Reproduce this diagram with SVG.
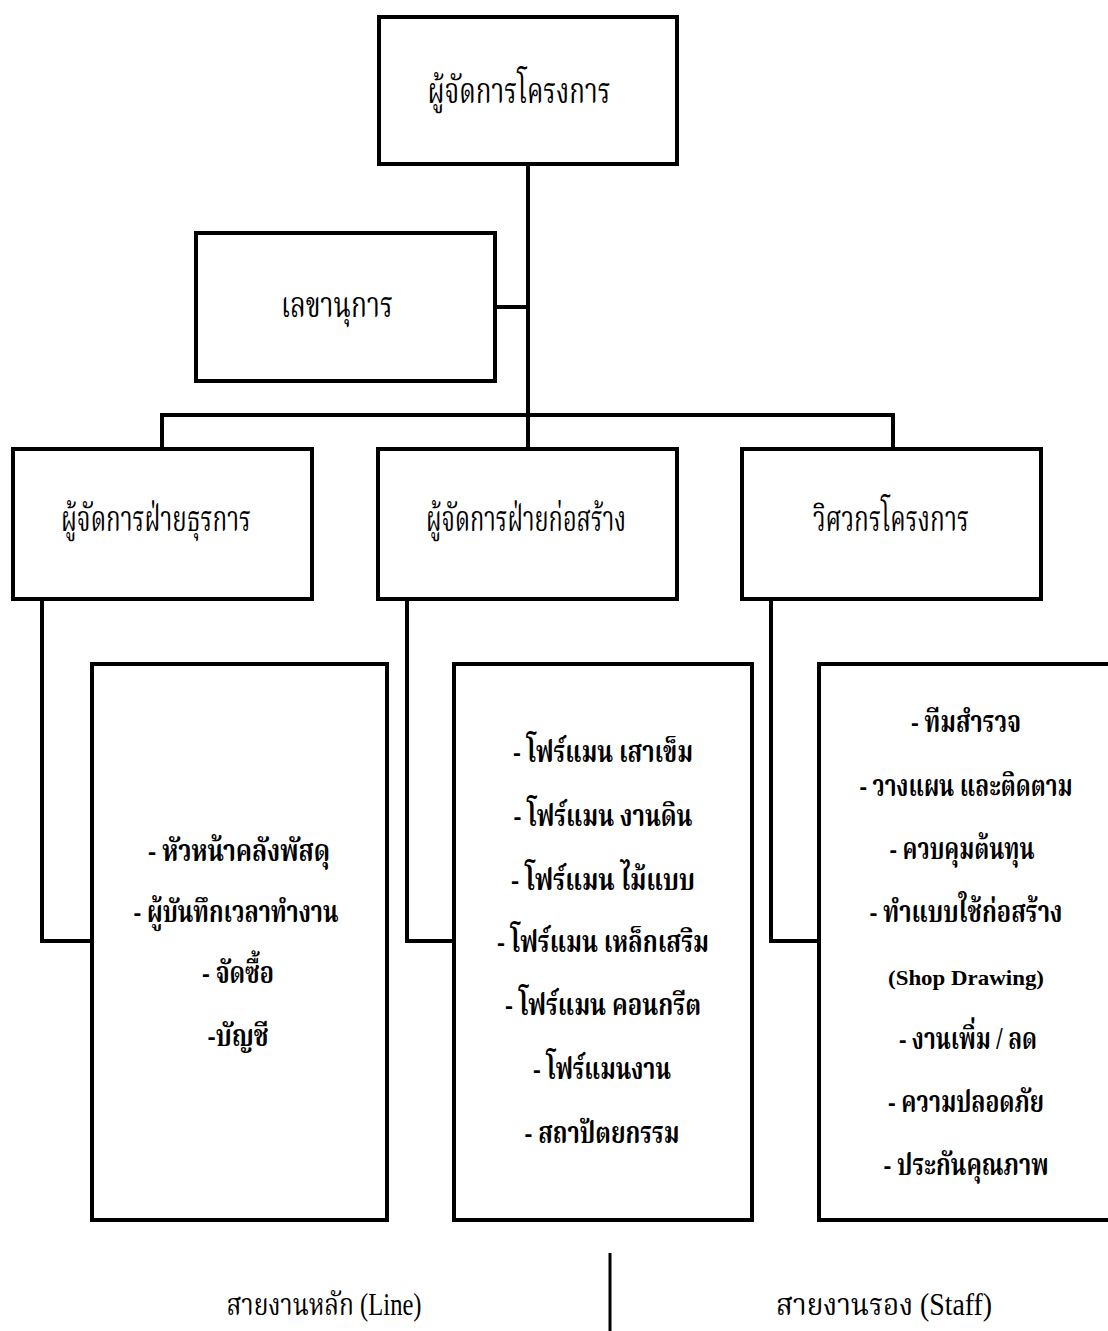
<svg xmlns="http://www.w3.org/2000/svg" width="1108" height="1331" viewBox="0 0 1108 1331">
<style>
.box{fill:#fff;stroke:#000;stroke-width:4}
.con{fill:none;stroke:#000;stroke-width:4}
text{font-family:"Liberation Serif","Noto Serif Thai","Noto Sans Thai",serif;font-size:36px;fill:#000;text-anchor:middle}
.b{font-weight:bold;font-size:31px}
.lg{font-size:31px}
</style>
<rect width="1108" height="1331" fill="#fff"/>
<g id="connectors">
<path class="con" d="M528 166 V447 M497 307 H528 M162 449 V415 H893 V449"/>
<path class="con" d="M42 601 V941 H92 M407 601 V941 H454 M771 601 V941 H819"/>
<path class="con" style="stroke-width:3" d="M610 1253 V1331"/>
</g>
<g id="pm"><rect class="box" x="379" y="17" width="298" height="147"/><text x="519" y="103" textLength="183" lengthAdjust="spacingAndGlyphs">ผู้จัดการโครงการ</text></g>
<g id="secretary"><rect class="box" x="196" y="233" width="299" height="148"/><text x="337" y="317" textLength="112" lengthAdjust="spacingAndGlyphs">เลขานุการ</text></g>
<g id="admin"><rect class="box" x="13" y="449" width="299" height="150"/><text x="156" y="531" textLength="190" lengthAdjust="spacingAndGlyphs">ผู้จัดการฝ่ายธุรการ</text></g>
<g id="construction"><rect class="box" x="378" y="449" width="299" height="150"/><text x="526" y="531" textLength="200" lengthAdjust="spacingAndGlyphs">ผู้จัดการฝ่ายก่อสร้าง</text></g>
<g id="engineer"><rect class="box" x="742" y="449" width="299" height="150"/><text x="891" y="531" textLength="156" lengthAdjust="spacingAndGlyphs">วิศวกรโครงการ</text></g>
<g id="admin-staff"><rect class="box" x="92" y="664" width="295" height="556"/>
<text class="b" x="239" y="861" textLength="182" lengthAdjust="spacingAndGlyphs">- หัวหน้าคลังพัสดุ</text>
<text class="b" x="236" y="922" textLength="205" lengthAdjust="spacingAndGlyphs">- ผู้บันทึกเวลาทำงาน</text>
<text class="b" x="238" y="983" textLength="72" lengthAdjust="spacingAndGlyphs">- จัดซื้อ</text>
<text class="b" x="238" y="1046" textLength="61" lengthAdjust="spacingAndGlyphs">-บัญชี</text>
</g>
<g id="construction-staff"><rect class="box" x="454" y="664" width="298" height="556"/>
<text class="b" x="603" y="762" textLength="180" lengthAdjust="spacingAndGlyphs">- โฟร์แมน เสาเข็ม</text>
<text class="b" x="603" y="826" textLength="179" lengthAdjust="spacingAndGlyphs">- โฟร์แมน งานดิน</text>
<text class="b" x="603" y="890" textLength="184" lengthAdjust="spacingAndGlyphs">- โฟร์แมน ไม้แบบ</text>
<text class="b" x="603" y="952" textLength="212" lengthAdjust="spacingAndGlyphs">- โฟร์แมน เหล็กเสริม</text>
<text class="b" x="603" y="1015" textLength="196" lengthAdjust="spacingAndGlyphs">- โฟร์แมน คอนกรีต</text>
<text class="b" x="602" y="1079" textLength="138" lengthAdjust="spacingAndGlyphs">- โฟร์แมนงาน</text>
<text class="b" x="602" y="1143" textLength="155" lengthAdjust="spacingAndGlyphs">- สถาปัตยกรรม</text>
</g>
<g id="engineer-staff"><rect class="box" x="819" y="664" width="300" height="556"/>
<text class="b" x="966" y="732" textLength="110" lengthAdjust="spacingAndGlyphs">- ทีมสำรวจ</text>
<text class="b" x="966" y="796" textLength="213" lengthAdjust="spacingAndGlyphs">- วางแผน และติดตาม</text>
<text class="b" x="962" y="859" textLength="145" lengthAdjust="spacingAndGlyphs">- ควบคุมต้นทุน</text>
<text class="b" x="966" y="922" textLength="193" lengthAdjust="spacingAndGlyphs">- ทำแบบใช้ก่อสร้าง</text>
<text class="b" x="966" y="985" textLength="156" lengthAdjust="spacingAndGlyphs" style="font-size:22px">(Shop Drawing)</text>
<text class="b" x="968" y="1049" textLength="138" lengthAdjust="spacingAndGlyphs">- งานเพิ่ม / ลด</text>
<text class="b" x="966" y="1112" textLength="156" lengthAdjust="spacingAndGlyphs">- ความปลอดภัย</text>
<text class="b" x="966" y="1175" textLength="165" lengthAdjust="spacingAndGlyphs">- ประกันคุณภาพ</text>
</g>
<g id="legend">
<text class="lg" x="324" y="1315" textLength="195" lengthAdjust="spacingAndGlyphs">สายงานหลัก (Line)</text>
<text class="lg" x="884" y="1315" textLength="216" lengthAdjust="spacingAndGlyphs">สายงานรอง (Staff)</text>
</g>
</svg>
